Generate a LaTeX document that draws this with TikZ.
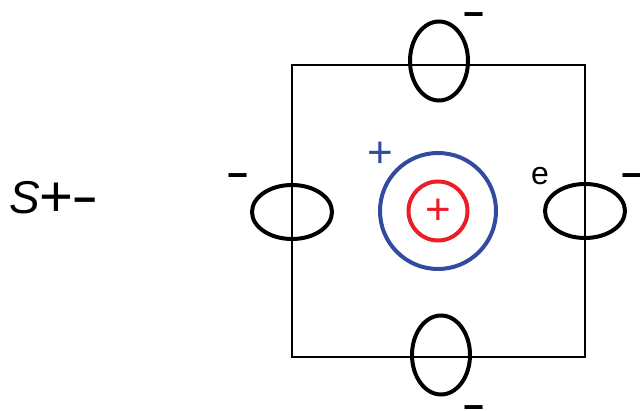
\documentclass[tikz,border=0pt]{standalone}
\usepackage{fontspec}
\setmainfont{Liberation Sans}
\usepackage{tikz}
\usetikzlibrary{shapes.geometric, positioning}
\definecolor{ringblue}{RGB}{50, 75, 160}
\definecolor{corered}{RGB}{235, 30, 40}

\begin{document}
\begin{tikzpicture}[
    x=1pt, y=-1pt,
    every node/.style={font=\fontsize{32}{36}\selectfont},
    loopv/.style={draw, ellipse, line width=4pt, minimum width=58pt, minimum height=79pt, inner sep=0pt},
    looph/.style={draw, ellipse, line width=4pt, minimum width=80pt, minimum height=54pt, inner sep=0pt},
    ring/.style={draw, circle, line width=4pt, inner sep=0pt},
    sign/.style={inner sep=0pt},
    minus/.style={inner sep=0pt, font=\fontsize{36}{40}\selectfont\bfseries},
    plus/.style={inner sep=0pt, font=\fontsize{44}{48}\selectfont},
]
\useasboundingbox (0,0) rectangle (640,411);

%% Quadrat
\coordinate (nw) at (292,65);
\coordinate (se) at (585,357);
\draw[line width=1.8pt] (nw) rectangle (se);

%% Schleifen auf den Seiten
\node[loopv] at (439,61)  (top)    {};
\node[loopv] at (441,355) (bottom) {};
\node[looph] at (292,212) (left)   {};
\node[looph] at (585,211) (right)  {};

%% Ringe in der Mitte
\node[ring, draw=ringblue, minimum size=116pt] at (438,211) (outer) {};
\node[ring, draw=corered,  minimum size=59pt]  at (438,211) (inner) {};
\node[plus, text=corered] at (438,212) (pin) {+};

%% Vorzeichen
\node[minus] at (474,20)  (mtop)    {\textminus};
\node[minus] at (474,413) (mbottom) {\textminus};
\node[minus] at (238,181) (mleft)   {\textminus};
\node[minus] at (632,181) (mright)  {\textminus};
\node[plus, text=ringblue] at (380,155) (pout) {+};
\node[sign] at (540,176) (elec) {e};

\node[sign, anchor=west, font=\fontsize{46}{50}\selectfont] at (9,199) (title)
    {\textit{S}\raisebox{-3pt}{\fontsize{58}{62}\selectfont+}{\bfseries\fontsize{40}{44}\selectfont\textminus}};

\end{tikzpicture}
\end{document}
